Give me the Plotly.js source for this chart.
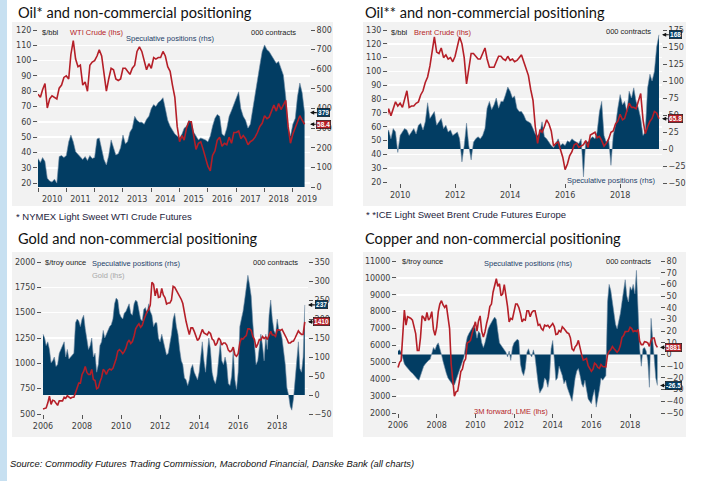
<!DOCTYPE html>
<html><head><meta charset="utf-8">
<script src="https://cdn.plot.ly/plotly-3.0.1.min.js"></script>
<style>html,body{margin:0;padding:0;background:#fff;}#chart{width:705px;height:481px;}</style>
</head><body><div id="chart"></div>
<script>
// ---------- DATA ----------
// Panel 1: WTI crude ($/bbl, lhs) and speculative positions (000 contracts, rhs), monthly Jan 2010 - Jun 2019
const wtiStart = [2010, 1];
const wtiPrice = [
 78,76,81,85,69,75,77,76,75,82,84,89,
 90,88,104,113,101,96,97,84,86,80,97,99,
 100,103,107,103,92,80,88,95,94,88,87,88,
 95,95,93,91,95,97,106,109,106,100,94,98,
 95,102,101,102,102,106,103,96,93,84,76,57,
 47,51,48,56,60,60,50,42,46,47,42,37,
 31,28,38,41,48,50,44,46,45,50,46,53,
 53,54,49,51,49,45,47,48,50,53,57,59,
 64,62,63,67,71,67,72,68,71,74,57,46,
 52,56,59,64,61,58.4];
const wtiSpec = [
 145,125,150,130,45,30,25,40,20,155,160,150,
 160,230,265,230,180,165,150,140,155,135,160,145,
 150,245,250,200,140,112,160,240,200,163,170,200,
 265,220,230,280,300,360,340,330,330,320,345,360,
 400,420,410,430,440,455,400,340,310,290,270,260,
 250,270,300,310,340,330,280,260,240,250,245,240,
 230,260,310,350,370,360,270,260,300,360,390,420,
 460,485,400,360,340,300,320,400,470,540,620,690,
 724,700,690,670,650,630,640,600,570,460,300,260,
 320,350,460,530,480,379];

// Panel 2: Brent crude and speculative positions, monthly Jul 2009 - Jun 2019
const brentStart = [2009, 7];
const brentPrice = [
 65,73,68,73,78,75,
 77,74,79,86,74,75,75,77,78,83,86,92,
 96,104,114,125,114,113,117,110,112,109,110,107,
 111,119,125,120,110,91,103,113,113,111,109,109,
 113,117,109,103,103,103,107,111,111,109,108,111,
 108,109,107,108,110,112,107,102,97,87,79,60,
 48,58,56,60,65,62,57,46,48,49,44,38,
 29,33,39,42,47,48,45,46,47,50,45,54,
 55,56,52,53,50,46,48,51,56,57,62,64,
 69,65,66,72,77,74,74,73,79,84,65,55,
 60,64,66,71,70,65.8];
const brentSpec = [
 20,28,15,30,25,-5,
 20,25,30,28,20,25,30,22,35,38,28,40,
 68,45,50,55,35,40,45,30,35,25,28,20,
 22,25,15,-19,5,38,5,-16,10,15,18,15,
 20,30,60,70,58,65,75,60,70,70,80,91,
 85,75,78,60,55,55,50,42,40,38,30,22,
 20,24,40,18,15,10,5,2,10,15,5,8,
 5,12,10,15,12,10,8,15,-41,12,10,15,
 18,15,25,55,70,20,10,15,-24,20,35,60,
 80,65,70,55,85,75,90,70,60,45,20,25,
 90,110,100,114,150,168];

// Panel 3: Gold ($/troy ounce, lhs) and speculative positions, monthly Jan 2006 - Jun 2019
const goldStart = [2006, 1];
const goldPrice = [
 550,555,560,610,675,595,635,630,600,585,630,630,
 630,665,655,680,665,655,665,665,710,755,805,805,
 890,920,970,910,890,890,940,840,830,750,760,815,
 860,940,925,890,930,945,935,950,995,1045,1120,1135,
 1120,1095,1115,1150,1205,1230,1195,1215,1270,1340,1370,1390,
 1355,1375,1425,1475,1510,1530,1575,1800,1780,1665,1740,1650,
 1655,1740,1675,1650,1585,1595,1595,1625,1760,1750,1720,1685,
 1670,1630,1590,1485,1415,1345,1285,1350,1350,1315,1275,1225,
 1245,1300,1335,1300,1290,1280,1310,1295,1240,1225,1175,1200,
 1250,1230,1180,1200,1200,1180,1130,1115,1125,1160,1085,1070,
 1095,1200,1245,1240,1260,1275,1340,1340,1325,1265,1235,1155,
 1190,1235,1230,1265,1245,1260,1235,1285,1315,1280,1280,1265,
 1330,1330,1325,1335,1305,1280,1240,1200,1200,1215,1220,1250,
 1290,1320,1300,1285,1285,1410];
const goldSpec = [
 160,150,130,140,120,85,90,100,75,80,110,120,
 130,140,100,120,95,100,105,110,190,200,195,180,
 200,210,175,140,120,130,150,100,110,60,80,130,
 140,170,150,160,170,180,185,200,240,255,250,215,
 205,200,215,220,230,240,215,210,240,250,245,225,
 200,195,225,230,215,240,220,210,180,190,190,150,
 140,160,140,120,105,110,130,160,200,215,180,160,
 120,90,80,45,40,25,40,70,80,60,50,40,
 60,110,140,90,60,110,150,120,60,40,30,50,
 90,140,90,80,100,80,30,25,50,120,40,15,
 60,180,200,220,250,280,315,290,260,190,120,80,
 90,130,160,130,90,160,120,210,250,200,170,160,
 200,170,170,150,120,80,20,0,-30,-40,-10,40,
 100,140,70,60,100,237];

// Panel 4: Copper (3M forward LME, lhs) and speculative positions, monthly Jan 2006 - Jun 2019
const copperStart = [2006, 1];
const copperPrice = [
 4700,5000,5100,6400,8100,7200,7700,7650,7600,7500,7000,6700,
 5700,5700,6450,7750,7650,7450,7950,7500,7650,8000,6950,6600,
 7050,8000,8450,8650,8400,8250,8400,7600,7000,4900,3700,3000,
 3250,3300,3800,4450,4600,5050,5200,6150,6200,6300,6700,7000,
 7400,6850,7450,7750,6850,6500,6800,7300,7700,8300,8450,9150,
 9550,9950,9500,9650,8950,9050,9600,9000,8300,7400,7600,7550,
 8000,8450,8450,8250,7900,7400,7550,7500,8050,8050,7700,7950,
 8050,8050,7650,7200,7250,7000,6900,7200,7150,7200,7050,7200,
 7300,7100,6650,6670,6880,6800,7100,7000,6870,6750,6700,6450,
 5800,5700,5920,6040,6300,5830,5450,5130,5210,5230,4800,4640,
 4470,4600,4950,4870,4700,4640,4870,4750,4720,4730,5450,5650,
 5750,5940,5820,5700,5600,5720,5990,6480,6580,6820,6830,6840,
 7080,7000,6820,6870,6830,6950,6250,6050,6050,6220,6200,6150,
 5950,6300,6440,6440,6050,5881];
const copperSpec = [
 3,4,2,-3,-8,-10,-12,-14,-15,-16,-18,-19,
 -21,-22,-18,-14,-10,-8,-6,-5,-4,2,6,4,
 8,10,6,0,-6,-12,-16,-20,-22,-24,-26,-26,
 -22,-18,-14,-10,-6,-2,8,15,18,20,22,25,
 22,14,20,18,10,6,10,16,22,25,28,30,
 32,30,20,10,8,6,4,2,-2,3,-5,6,
 10,12,13,12,-8,-15,-18,-12,2,5,0,-2,
 4,-2,-15,-25,-33,-30,-28,-20,-22,-28,-20,5,
 12,-5,-22,-20,-10,-14,-18,-25,-22,-28,-32,-36,
 -40,-30,-20,-14,-12,-18,-25,-28,-22,-30,-38,-40,
 -42,-35,-30,-45,-38,-30,-20,-22,-20,-18,45,60,
 55,45,33,26,22,28,35,45,55,64,50,45,
 58,55,60,52,72,40,5,-10,5,6,3,-5,
 -28,31,15,-5,-20,-26.5];

// ---------- HELPERS ----------
function monthDates(start, n) {
  const out = [];
  let y = start[0], m = start[1];
  for (let i = 0; i < n; i++) {
    out.push(y + '-' + String(m).padStart(2, '0') + '-01');
    m++; if (m > 12) { m = 1; y++; }
  }
  return out;
}
const W = 705, H = 481;
const px = v => v / W;
const py = v => 1 - v / H;

const NAVY = '#023d63';
const NAVY_EDGE = '#6f8aa3';
const RED = '#b51f28';
const GRAY_BG = '#f2f2f2';
const TICK = '#3c3c3c';
const tickFont = {family: 'DejaVu Sans', size: 8, color: TICK};

function areaTrace(dates, vals, xa, ya) {
  return {x: dates, y: vals, xaxis: xa, yaxis: ya, type: 'scatter', mode: 'lines',
    fill: 'tozeroy', fillcolor: NAVY, line: {color: NAVY_EDGE, width: 0.6}, hoverinfo: 'skip'};
}
function lineTrace(dates, vals, xa, ya) {
  return {x: dates, y: vals, xaxis: xa, yaxis: ya, type: 'scatter', mode: 'lines',
    line: {color: RED, width: 1.6}, hoverinfo: 'skip'};
}

const d1 = monthDates(wtiStart, wtiPrice.length);
const d2 = monthDates(brentStart, brentPrice.length);
const d3 = monthDates(goldStart, goldPrice.length);
const d4 = monthDates(copperStart, copperPrice.length);

const data = [
  areaTrace(d1, wtiSpec, 'x', 'y'),  lineTrace(d1, wtiPrice, 'x', 'y2'),
  areaTrace(d2, brentSpec, 'x2', 'y3'), lineTrace(d2, brentPrice, 'x2', 'y4'),
  areaTrace(d3, goldSpec, 'x3', 'y5'), lineTrace(d3, goldPrice, 'x3', 'y6'),
  areaTrace(d4, copperSpec, 'x4', 'y7'), lineTrace(d4, copperPrice, 'x4', 'y8')
];

function xAx(dom, range, extra) {
  return Object.assign({type: 'date', domain: [px(dom[0]), px(dom[1])], range: range,
    showgrid: false, zeroline: false, showline: false, ticks: 'outside', ticklen: 4,
    tickcolor: '#555', tickwidth: 1, tickfont: tickFont, tickformat: '%Y', fixedrange: true}, extra);
}
function yRight(dom, anchor, range, dtick) {
  return {domain: [py(dom[1]), py(dom[0])], anchor: anchor, side: 'right', range: range, dtick: dtick,
    showgrid: false, zeroline: false, showline: false, ticks: 'outside', ticklen: 4,
    tickcolor: '#555', tickfont: tickFont, tickformat: 'd', fixedrange: true};
}
function yLeft(over, anchor, range, dtick, tick0) {
  return {overlaying: over, anchor: anchor, side: 'left', range: range, dtick: dtick, tick0: tick0,
    showgrid: true, gridcolor: '#ffffff', gridwidth: 1.6, zeroline: false, showline: false,
    ticks: 'outside', ticklen: 4, tickcolor: '#555', tickfont: tickFont, tickformat: 'd', fixedrange: true};
}

const layout = {
  width: W, height: H, margin: {l: 0, r: 0, t: 0, b: 0},
  paper_bgcolor: '#ffffff', plot_bgcolor: 'rgba(0,0,0,0)', showlegend: false,
  font: {family: 'DejaVu Sans', color: '#222'},
  // Panel 1
  xaxis: xAx([38, 310], ['2010-01-01', '2019-08-10'], {dtick: 'M12', tick0: '2010-01-01', ticklabelmode: 'period'}),
  yaxis: yRight([30, 187], 'x', [0, 800], 100),
  yaxis2: yLeft('y', 'x', [17.4, 120], 10, 20),
  // Panel 2
  xaxis2: xAx([388, 662], ['2009-07-24', '2019-07-11'], {dtick: 'M24', tick0: '2010-01-01', anchor: 'y3'}),
  yaxis3: yRight([30, 183], 'x2', [-50, 175], 25),
  yaxis4: yLeft('y3', 'x2', [19.3, 130], 10, 20),
  // Panel 3
  xaxis3: xAx([42, 308], ['2005-12-13', '2019-07-31'], {dtick: 'M24', tick0: '2006-01-01', anchor: 'y5'}),
  yaxis5: yRight([262, 414], 'x3', [-50, 350], 50),
  yaxis6: yLeft('y5', 'x3', [500, 2000], 250, 500),
  // Panel 4
  xaxis4: xAx([397, 660], ['2005-12-13', '2019-07-20'], {dtick: 'M24', tick0: '2006-01-01', anchor: 'y7'}),
  yaxis7: yRight([261, 413], 'x4', [-50, 80], 10),
  yaxis8: yLeft('y7', 'x4', [2000, 11000], 1000, 2000),
  shapes: [
    {type: 'rect', xref: 'paper', yref: 'paper', x0: 0, x1: px(7), y0: 0, y1: 1, fillcolor: '#c7e0f1', line: {width: 0}, layer: 'below'},
    {type: 'rect', xref: 'paper', yref: 'paper', x0: px(12), x1: px(333), y0: py(206), y1: py(22), fillcolor: GRAY_BG, line: {width: 0}, layer: 'below'},
    {type: 'rect', xref: 'paper', yref: 'paper', x0: px(363), x1: px(686), y0: py(206), y1: py(22), fillcolor: GRAY_BG, line: {width: 0}, layer: 'below'},
    {type: 'rect', xref: 'paper', yref: 'paper', x0: px(12), x1: px(333), y0: py(437), y1: py(252), fillcolor: GRAY_BG, line: {width: 0}, layer: 'below'},
    {type: 'rect', xref: 'paper', yref: 'paper', x0: px(363), x1: px(686), y0: py(437), y1: py(252), fillcolor: GRAY_BG, line: {width: 0}, layer: 'below'}
  ],
  annotations: []
};

function txt(x, y, text, size, color, opts) {
  return Object.assign({xref: 'paper', yref: 'paper', x: px(x), y: py(y), text: text, showarrow: false,
    xanchor: 'left', yanchor: 'middle', font: {family: 'Liberation Sans', size: size, color: color}, borderpad: 0}, opts || {});
}
const titleFont = {family: 'Lato', size: 14.6, color: '#111'};
function title(x, y, text) { return txt(x, y, text, 14.6, '#111', {font: titleFont}); }
function tag(xPix, yVal, yref, text, bg) {
  return {xref: 'paper', yref: yref, x: px(xPix), y: yVal, text: '<b>' + text + '</b>', showarrow: true,
    ax: 13, ay: 0, arrowhead: 2, arrowsize: 0.7, arrowwidth: 1.2, arrowcolor: '#111', standoff: 0,
    bgcolor: bg, bordercolor: '#111', borderwidth: 0.6, borderpad: 0.5,
    font: {family: 'Liberation Sans', size: 6.5, color: '#fff'}};
}

layout.annotations.push(
  title(17, 12, 'Oil* and non-commercial positioning'),
  title(364, 12, 'Oil** and non-commercial positioning'),
  title(17, 238, 'Gold and non-commercial positioning'),
  title(364, 238, 'Copper and non-commercial positioning'),
  // Panel 1 labels
  txt(41, 32, '$/bbl', 7.5, '#222'),
  txt(69, 32, 'WTI Crude (lhs)', 7.5, RED),
  txt(125, 38, 'Speculative positions (rhs)', 7.5, '#1d3f6a'),
  txt(250, 33, '000 contracts', 7.5, '#222'),
  // Panel 2 labels
  txt(390, 32, '$/bbl', 7.5, '#222'),
  txt(413, 32, 'Brent Crude (lhs)', 7.5, RED),
  txt(605, 31, '000 contracts', 7.5, '#222'),
  txt(566, 181, 'Speculative positions (rhs)', 7.5, '#1d3f6a'),
  // Panel 3 labels
  txt(44, 262, '$/troy ounce', 7.5, '#222'),
  txt(91, 263, 'Speculative positions (rhs)', 7.5, '#1d3f6a'),
  txt(91, 275, 'Gold (lhs)', 7.5, '#a8a8a8'),
  txt(252, 262, '000 contracts', 7.5, '#222'),
  // Panel 4 labels
  txt(401, 261, '$/troy ounce', 7.5, '#222'),
  txt(528, 263, 'Speculative positions (rhs)', 7.5, '#1d3f6a', {xanchor: 'center'}),
  txt(605, 261, '000 contracts', 7.5, '#222'),
  txt(473, 411, '3M forward, LME (lhs)', 7.5, RED),
  // footnotes & source
  txt(15, 217, '* NYMEX Light Sweet WTI Crude Futures', 9.5, '#1c1c3c'),
  txt(365, 214, '* *ICE Light Sweet Brent Crude Futures Europe', 9.5, '#1c1c3c'),
  txt(9, 463, 'Source: Commodity Futures Trading Commission, Macrobond Financial, Danske Bank (all charts)', 9.4, '#111',
      {font: {family: 'Liberation Sans', size: 9.4, color: '#111', style: 'italic'}}),
  // end-value tags
  tag(310, wtiSpec[wtiSpec.length - 1], 'y', String(wtiSpec[wtiSpec.length - 1]), NAVY),
  tag(310, wtiPrice[wtiPrice.length - 1], 'y2', String(wtiPrice[wtiPrice.length - 1]), RED),
  tag(662, brentSpec[brentSpec.length - 1], 'y3', String(brentSpec[brentSpec.length - 1]), NAVY),
  tag(662, brentPrice[brentPrice.length - 1], 'y4', String(brentPrice[brentPrice.length - 1]), RED),
  tag(308, goldSpec[goldSpec.length - 1], 'y5', String(goldSpec[goldSpec.length - 1]), NAVY),
  tag(308, goldPrice[goldPrice.length - 1], 'y6', String(goldPrice[goldPrice.length - 1]), RED),
  tag(660, copperPrice[copperPrice.length - 1], 'y8', String(copperPrice[copperPrice.length - 1]), RED),
  tag(660, copperSpec[copperSpec.length - 1], 'y7', String(copperSpec[copperSpec.length - 1]), NAVY)
);

Plotly.newPlot('chart', data, layout, {displayModeBar: false, staticPlot: true});
</script></body></html>
